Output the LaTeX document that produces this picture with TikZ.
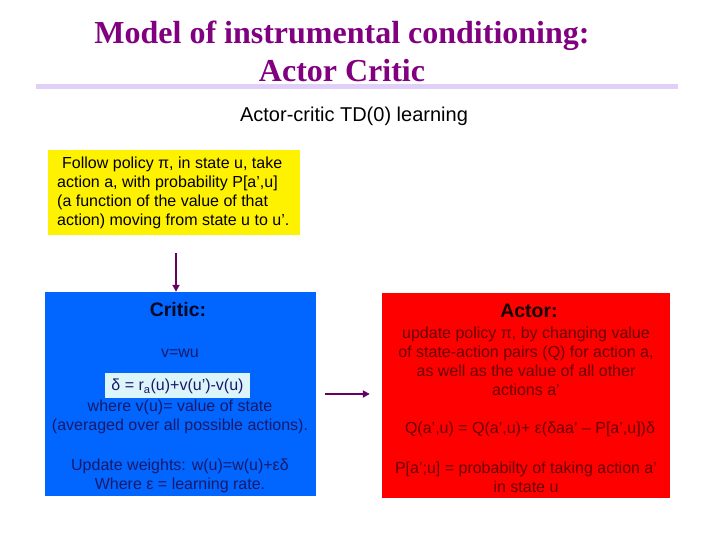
\documentclass[tikz,border=0pt]{standalone}
\usepackage{fontspec}
\setmainfont{Liberation Sans}
\newfontfamily\titlefont{Liberation Serif}
\usetikzlibrary{arrows.meta}
\definecolor{ttl}{RGB}{128,0,128}
\definecolor{rulec}{RGB}{224,208,248}
\definecolor{critfill}{RGB}{0,102,255}
\definecolor{actfill}{RGB}{255,0,0}
\definecolor{crittext}{RGB}{25,25,105}
\definecolor{acttext}{RGB}{105,0,0}
\definecolor{deltafill}{RGB}{220,245,250}
\definecolor{arrc}{RGB}{102,0,102}
\tikzset{
  body/.style={font=\fontsize{16}{19}\selectfont, align=center, inner sep=0pt},
  head/.style={font=\fontsize{19.5}{21}\selectfont\bfseries, inner sep=0pt},
  panel/.style={draw=none, inner sep=0pt},
  flow/.style={draw=arrc, line width=2pt, -{Triangle[length=7pt,width=7pt]}},
}
\begin{document}
\begin{tikzpicture}[x=1pt,y=1pt]
\useasboundingbox (0,0) rectangle (720,-540);
% title
\node[font=\titlefont\fontsize{32}{38}\selectfont\bfseries, text=ttl, align=center, inner sep=0pt] (title) at (342,-51) {Model of instrumental conditioning:\\Actor Critic};
\draw[rulec, line width=5pt] (36,-86.5) -- (678,-86.5);
\node[font=\fontsize{20}{22}\selectfont, inner sep=0pt] (sub) at (354,-116.5) {Actor-critic TD(0) learning};
% policy box
\node[panel, fill=yellow, minimum width=252pt, minimum height=85pt] (policy) at (174,-192.5) {};
\node[body, align=left, anchor=west] (policytxt) at (57,-193) {\hspace{5pt}Follow policy π, in state u, take\\action a, with probability P[a’,u]\\(a function of the value of that\\action) moving from state u to u’.};
% critic
\node[panel, fill=critfill, minimum width=271pt, minimum height=204pt] (critic) at (180.5,-394) {};
\node[head, text=black!70!crittext] (critichead) at (178,-310) {Critic:};
\node[body, text=crittext] (vwu) at (180,-353.5) {v=wu};
\node[panel, fill=deltafill, minimum width=145pt, minimum height=25pt] (deltabox) at (177.5,-385.5) {};
\node[body, text=crittext] (delta) at ([yshift=-1pt]deltabox.center) {δ = r\textsubscript{a}(u)+v(u’)-v(u)};
\node[body, text=crittext] (where) at (180,-417) {where v(u)= value of state\\(averaged over all possible actions).};
\node[body, text=crittext] (update) at (180,-475.5) {Update weights: w(u)=w(u)+εδ\\Where ε = learning rate.};
% actor
\node[panel, fill=actfill, minimum width=288pt, minimum height=205pt] (actor) at (526,-395.5) {};
\node[head, text=black!80!acttext] (actorhead) at (529,-311) {Actor:};
\node[body, text=acttext] (apol) at (526,-361) {update policy π, by changing value\\of state-action pairs (Q) for action a,\\as well as the value of all other\\actions a’};
\node[body, text=acttext] (qeq) at (530,-429.5) {Q(a’,u) = Q(a’,u)+ ε(δaa’ – P[a’,u])δ};
\node[body, text=acttext] (pdef) at (526,-477) {P[a’;u] = probabilty of taking action a’\\in state u};
% connectors
\coordinate (arrtop) at (176,-253);
\draw[flow] (arrtop) -- (arrtop |- critic.north);
\draw[flow, shorten <=9pt, shorten >=12pt] (critic.east) -- (critic.east -| actor.west);
\end{tikzpicture}
\end{document}
